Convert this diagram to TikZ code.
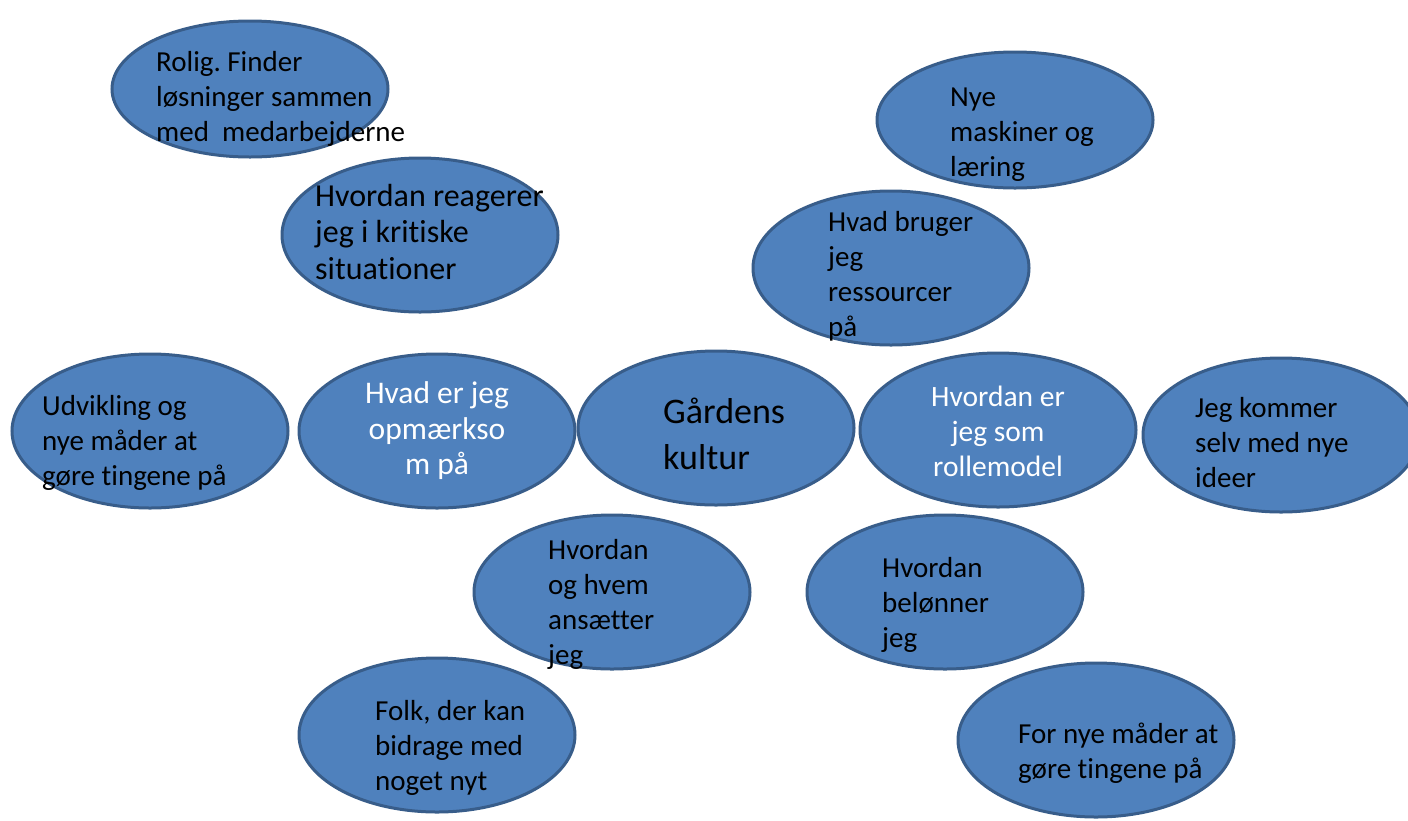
\documentclass[tikz,border=0pt]{standalone}
\usepackage{fontspec}
\setmainfont{Carlito}[Ligatures=CommonOff]
\usetikzlibrary{shapes.geometric}
\definecolor{bubblefill}{HTML}{4F81BD}
\definecolor{bubbleline}{HTML}{385D8A}
\tikzset{
  bubble/.style={ellipse, draw=bubbleline, fill=bubblefill, line width=3pt,
    inner sep=0pt, minimum width=276pt, minimum height=154pt},
  smallbubble/.style={bubble, minimum height=136pt},
  txt/.style={anchor=west, align=left, inner sep=0pt, text=black,
    font=\fontsize{29}{35}\selectfont\frenchspacing},
  ltxt/.style={txt, font=\fontsize{32}{36.5}\selectfont\frenchspacing},
  wtxt/.style={anchor=center, align=center, inner sep=0pt, text=white,
    font=\fontsize{29.5}{35}\selectfont\frenchspacing},
  lwtxt/.style={wtxt, font=\fontsize{31.5}{35.5}\selectfont\frenchspacing},
  bigtxt/.style={anchor=west, align=left, inner sep=0pt, text=black,
    font=\fontsize{36}{46}\selectfont}
}
\begin{document}
\begin{tikzpicture}[x=1pt,y=-1pt]
\useasboundingbox (0,0) rectangle (1408,820);
% ellipses
\node[smallbubble] (e1) at (250,89) {};
\node[smallbubble] (e2) at (1015,120) {};
\node[bubble] (e3) at (420,235) {};
\node[bubble] (e4) at (891,268) {};
\node[bubble] (e5) at (150,431) {};
\node[bubble] (e6) at (437,431) {};
\node[bubble] (e7) at (716,428) {};
\node[bubble] (e8) at (998,430) {};
\node[bubble] (e9) at (1281,435) {};
\node[bubble] (e10) at (612,592) {};
\node[bubble] (e11) at (945,592) {};
\node[bubble] (e12) at (437,735) {};
\node[bubble] (e13) at (1096,740) {};
% texts
\node[txt] (t1) at (156,99) {Rolig. Finder\\løsninger sammen\\med~ medarbejderne};
\node[txt] (t2) at (950,135) {Nye\\maskiner og\\læring};
\node[ltxt] (t3) at (315,232) {Hvordan reagerer\\jeg i kritiske\\situationer};
\node[txt] (t4) at (828,276) {Hvad bruger\\jeg\\ressourcer\\på};
\node[txt] (t5) at (42,443) {Udvikling og\\nye måder at\\gøre tingene på};
\node[lwtxt] (t6) at (437,431) {Hvad er jeg\\opmærkso\\m på};
\node[bigtxt] (t7) at (663,434) {Gårdens\\kultur};
\node[wtxt] (t8) at (998,431) {Hvordan er\\jeg som\\rollemodel};
\node[txt] (t9) at (1195,443) {Jeg kommer\\selv med nye\\ideer};
\node[txt] (t10) at (548,604) {Hvordan\\og hvem\\ansætter\\jeg};
\node[txt] (t11) at (882,605) {Hvordan\\belønner\\jeg};
\node[txt] (t12) at (375,748) {Folk, der kan\\bidrage med\\noget nyt};
\node[txt] (t13) at (1018,753) {For nye måder at\\gøre tingene på};
\end{tikzpicture}
\end{document}
